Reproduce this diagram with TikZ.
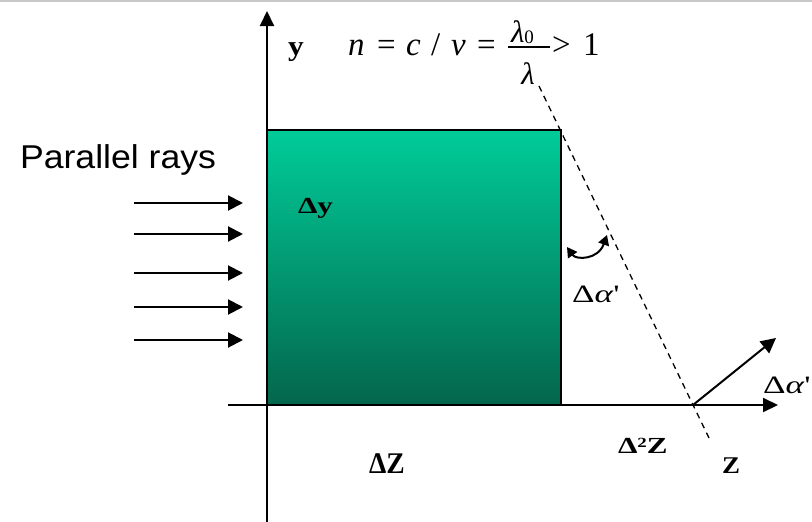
\documentclass[tikz,border=0pt]{standalone}
\usepackage{fontspec}
\setmainfont{Liberation Serif}
\newfontfamily\arialf{Liberation Sans}
\usetikzlibrary{arrows.meta}
\definecolor{topg}{RGB}{0,204,153}
\definecolor{botg}{RGB}{4,102,76}
\definecolor{bordg}{RGB}{200,200,200}
\newcommand\fsz[1]{\fontsize{#1}{#1}\selectfont}
\begin{document}
\begin{tikzpicture}[x=1pt,y=-1pt,
  ax/.style={line width=2pt,-{Triangle[length=15pt,width=14pt]}},
  ray/.style={line width=2pt,-{Triangle[length=15pt,width=15pt]}},
  bothtip/.style={line width=2pt,{Triangle[length=10pt,width=11pt]}-{Triangle[length=10pt,width=11pt]}},
  txt/.style={inner sep=0pt,outer sep=0pt},
  bl/.style={txt,font=\bfseries\fsz{#1}},
  rg/.style={txt,font=\fsz{#1}}
]
\useasboundingbox (0,0) rectangle (812,522);
\coordinate (gl) at (0,0.75);
\coordinate (gr) at (812,0.75);
\draw[bordg,line width=1.5pt] (gl) -- (gr);

% block
\node[draw,line width=2pt,minimum width=294pt,minimum height=275pt,
  top color=topg,bottom color=botg,anchor=north west,inner sep=0pt,outer sep=0pt]
  (block) at (267,130) {};

% axes
\coordinate (ybot) at (267,522);
\coordinate (ytop) at (267,11);
\coordinate (zl) at (228,405);
\coordinate (zr) at (778,405);
\draw[ax] (ybot) -- (ytop);
\draw[ax] (zl) -- (zr);

% parallel rays
\foreach \i/\yy in {1/203,2/234,3/273,4/307,5/340}{
  \coordinate (rs\i) at (134,\yy);
  \coordinate (re\i) at (243,\yy);
  \draw[ray] (rs\i) -- (re\i);
}
\node[txt,font=\arialf\fsz{33},anchor=base west] (pr) at (20,168) {\scalebox{1.08}[1]{Parallel rays}};

% dashed normal
\coordinate (d1) at (539,86);
\coordinate (d2) at (709,438);
\draw[line width=1.3pt,dash pattern=on 6pt off 5pt] (d1) -- (d2);

% outgoing ray
\coordinate (P) at (693,405);
\coordinate (Q) at (776,338);
\draw[ray] (P) -- (Q);

% curved angle arrow
\coordinate (c1) at (567,247);
\coordinate (c2) at (607,235);
\draw[bothtip] (c1) .. controls (576,260) and (598,260) .. (c2);

% formula
\node[bl=28,anchor=base] (ylab) at (296,55) {\scalebox{1.12}[1]{y}};
\node[rg=33,anchor=base west] (fn) at (348,55) {\textit{n}};
\node[rg=33,anchor=base west] (fe1) at (377,55) {=};
\node[rg=33,anchor=base west] (fc) at (406,55) {\textit{c}};
\node[rg=33,anchor=base west] (fs) at (431,55) {/};
\node[rg=33,anchor=base west] (fv) at (451,55) {\textit{v}};
\node[rg=33,anchor=base west] (fe2) at (477,55) {=};
\node[rg=31,anchor=base west] (num) at (511,42) {\textit{λ}\raisebox{-1.5pt}{\fsz{19}0}};
\coordinate (fb1) at (508,47);
\coordinate (fb2) at (550,47);
\draw[line width=1.3pt] (fb1) -- (fb2);
\node[rg=31,anchor=base] (den) at (528,84) {\textit{λ}};
\node[rg=33,anchor=base west] (fgt) at (552,55) {>};
\node[rg=33,anchor=base west] (fone) at (583,55) {1};

% labels
\node[bl=23,anchor=base west] (dy) at (298,213) {\scalebox{1.35}[1]{Δy}};
\node[rg=25,anchor=base west] (da1) at (572,302) {\scalebox{1.4}[1]{Δ\textit{α}\textquotesingle}};
\node[rg=25,anchor=base west] (da2) at (763,393) {\scalebox{1.4}[1]{Δ\textit{α}\textquotesingle}};
\node[bl=23,anchor=base west] (d2z) at (618,453) {\scalebox{1.35}[1]{Δ\raisebox{5.5pt}{\fsz{14}2}Z}};
\node[bl=24,anchor=base west] (zlab) at (722,473) {\scalebox{1.12}[1]{Z}};
\node[bl=30,anchor=base west] (dz) at (369,473) {\scalebox{0.92}[1]{ΔZ}};
\end{tikzpicture}
\end{document}
